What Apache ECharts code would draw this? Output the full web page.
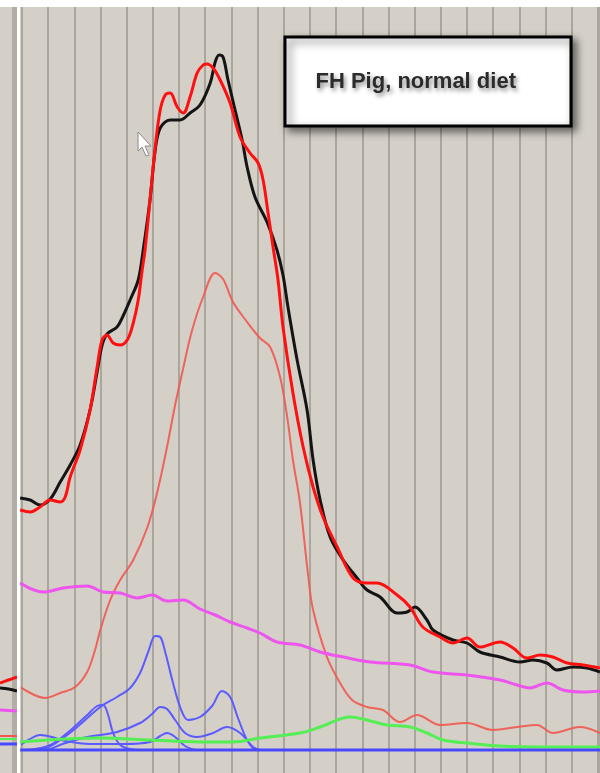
<!DOCTYPE html>
<html>
<head>
<meta charset="utf-8">
<script src="https://cdn.jsdelivr.net/npm/echarts@6/dist/echarts.min.js"></script>
<style>
  html, body { margin: 0; padding: 0; background: #d4d0c8; }
  #chart { width: 600px; height: 773px; }
</style>
</head>
<body>
<div id="chart"></div>
<script>
// x = fraction number (one grid line per fraction), y = detector signal (arbitrary units)
const titleText = 'FH Pig, normal diet';

const observed = [
  [-0.07,252],[0.31,250],[0.69,245],[1.08,251],[1.46,268],[1.84,285],[2.22,305],[2.60,340],[2.87,378],
  [3.06,405],[3.25,416],[3.63,423],[3.86,434],[4.13,450],[4.44,470],[4.63,500],[4.89,550],[5.09,600],
  [5.28,622],[5.66,630],[6.04,630],[6.42,637],[6.80,645],[7.19,667],[7.38,688],[7.53,695],[7.68,693],
  [7.87,670],[8.14,640],[8.41,610],[8.60,583],[8.90,553],[9.36,528],[9.74,500],[9.97,475],[10.16,443],
  [10.51,390],[10.89,340],[11.12,290],[11.39,250],[11.77,213],[12.27,190],[12.80,172],[13.18,160],
  [13.68,153],[14.33,137],[14.71,138],[15.01,143],[15.47,130],[15.70,120],[16.46,110],[17.00,107],
  [17.49,98],[18.26,93],[19.02,88],[19.52,90],[20.05,87],[20.43,80],[21.05,83],[21.58,82],[22.08,78]
];

const fitTotal = [
  [-0.07,240],[0.31,238],[0.69,243],[1.08,250],[1.46,248],[1.65,253],[1.84,273],[2.22,300],[2.60,340],
  [2.87,383],[3.06,410],[3.25,415],[3.48,407],[3.75,405],[4.02,410],[4.25,427],[4.44,450],[4.59,480],
  [4.70,500],[4.89,550],[5.09,603],[5.28,640],[5.47,655],[5.66,657],[5.93,643],[6.16,637],[6.42,653],
  [6.69,677],[6.92,685],[7.07,686],[7.30,682],[7.57,670],[7.95,647],[8.33,613],[8.71,597],[9.02,587],
  [9.21,570],[9.40,537],[9.59,503],[9.78,470],[9.97,423],[10.35,357],[10.74,303],[11.12,263],
  [11.50,233],[12.04,203],[12.65,172],[13.18,167],[13.56,167],[14.33,155],[14.82,143],[15.31,123],
  [15.97,113],[16.46,107],[17.00,112],[17.49,103],[18.26,108],[18.76,102],[19.29,92],[19.79,95],
  [20.28,93],[20.82,87],[21.43,85],[22.08,82]
];

const ldlPeak = [
  [-0.07,63],[0.89,52],[1.46,57],[2.03,63],[2.49,78],[2.79,100],[2.99,120],[3.37,150],[3.75,170],
  [4.25,190],[4.78,222],[5.16,257],[5.54,303],[5.85,345],[6.16,382],[6.50,420],[6.92,453],[7.38,477],
  [7.68,471],[8.06,448],[8.60,428],[9.09,412],[9.48,403],[9.86,373],[10.13,333],[10.35,290],
  [10.62,247],[10.93,175],[11.12,140],[11.65,93],[12.15,67],[12.61,50],[13.18,43],[13.79,40],
  [14.44,28],[15.09,35],[15.97,25],[17.00,27],[17.99,20],[18.91,23],[19.67,25],[20.28,17],
  [21.31,23],[22.08,17]
];

const broadPeak = [
  [-0.07,167],[0.81,158],[1.57,162],[2.49,164],[3.10,158],[3.75,157],[4.40,152],[4.97,155],[5.54,149],
  [6.16,150],[6.80,141],[7.38,135],[7.95,128],[8.60,122],[9.09,117],[9.74,108],[10.62,105],[11.39,98],
  [12.27,93],[13.30,88],[14.82,85],[15.70,78],[17.00,75],[18.26,70],[18.91,65],[19.40,62],[20.05,67],
  [20.66,60],[21.43,58],[22.08,59]
];

const hdlPeak = [
  [-0.07,8],[2.99,12],[4.89,10],[6.80,8],[8.06,8],[9.09,12],[10.62,17],[11.39,23],[12.53,33],
  [13.18,30],[13.94,25],[14.82,23],[15.47,17],[16.08,10],[17.00,7],[18.26,4],[20.17,3],[22.08,3]
];

const baseline = [[-0.07,0],[22.08,0]];

const vldlPeakA = [
  [-0.07,0],[0.89,2],[1.46,10],[2.11,23],[2.99,43],[3.63,53],[4.13,62],[4.51,77],[4.82,98],[5.09,114],
  [5.28,113],[5.47,98],[5.74,70],[6.04,43],[6.35,30],[6.80,33],[7.26,44],[7.64,59],[7.95,53],
  [8.25,32],[8.64,8],[8.98,0],[22.08,0]
];
const vldlPeakB = [
  [-0.07,0],[0.81,0],[1.65,7],[2.49,13],[3.63,18],[4.51,27],[4.97,36],[5.28,43],[5.54,41],[5.85,30],
  [6.23,17],[6.69,13],[7.30,17],[7.83,23],[8.33,17],[8.83,3],[9.09,0]
];
const vldlPeakC = [
  [0.31,0],[1.08,5],[1.73,17],[2.49,35],[2.87,44],[3.10,45],[3.29,35],[3.48,17],[3.75,5],[4.13,1],[4.51,0]
];
const vldlPeakD = [
  [-0.07,5],[0.24,10],[0.69,15],[1.15,13],[1.65,9],[2.60,6],[3.94,6],[4.89,8],[5.28,14],[5.54,17],
  [5.85,13],[6.23,4],[6.61,0]
];

// stubs of the neighbouring panel at the far left
const leftObserved = [[0,62],[0.5,61],[1,59]];
const leftFit = [[0,67],[0.5,70],[1,73]];
const leftBroad = [[0,40],[1,39]];
const leftLdl = [[0,14],[1,14]];
const leftHdl = [[0,11],[1,11]];
const leftBase = [[0,6],[1,6]];

const chart = echarts.init(document.getElementById('chart'), null, { renderer: 'canvas' });

function line(name, data, color, width, z, gi, opacity) {
  return {
    name, type: 'line', data, xAxisIndex: gi, yAxisIndex: gi,
    showSymbol: false, symbol: 'none', smooth: 0.35, clip: false, z,
    lineStyle: { color, width, opacity: opacity == null ? 1 : opacity },
    silent: true, animation: false
  };
}

const option = {
  backgroundColor: 'transparent',
  animation: false,
  title: {
    text: titleText,
    left: 284.5, top: 36.5,
    padding: [34, 55, 34, 31],
    backgroundColor: '#ffffff',
    borderColor: '#000000',
    borderWidth: 3,
    shadowBlur: 8,
    shadowColor: 'rgba(0,0,0,0.55)',
    shadowOffsetX: 4,
    shadowOffsetY: 4,
    textStyle: {
      fontFamily: 'Liberation Sans, Arial, sans-serif',
      fontSize: 22, fontWeight: 'bold', color: '#2b2b2b',
      textShadowColor: 'rgba(0,0,0,0.45)', textShadowBlur: 4,
      textShadowOffsetX: 2, textShadowOffsetY: 3
    },
    z: 20
  },
  grid: [
    { left: 22, right: 0, top: 7, bottom: 0, show: false },
    { left: 0, width: 17, top: 7, bottom: 0, show: false }
  ],
  xAxis: [
    {
      type: 'value', gridIndex: 0, min: 0, max: 22.08, interval: 1,
      axisLine: { show: false }, axisTick: { show: false }, axisLabel: { show: false },
      splitLine: { show: true, lineStyle: { color: '#aaa69e', width: 2 } }
    },
    {
      type: 'value', gridIndex: 1, min: 0, max: 1,
      axisLine: { show: false }, axisTick: { show: false }, axisLabel: { show: false },
      splitLine: { show: false }
    }
  ],
  yAxis: [
    { type: 'value', gridIndex: 0, min: -23, max: 743, show: false, splitLine: { show: false } },
    { type: 'value', gridIndex: 1, min: -23, max: 743, show: false, splitLine: { show: false } }
  ],
  graphic: [
    { type: 'rect', shape: { x: 12, y: 7, width: 5, height: 766 }, style: { fill: '#b2aea6' }, z: -1, silent: true },
    { type: 'rect', shape: { x: 17, y: 0, width: 3, height: 773 }, style: { fill: '#ffffff' }, z: 10, silent: true },
    { type: 'rect', shape: { x: 0, y: 0, width: 600, height: 7 }, style: { fill: '#ffffff' }, z: 10, silent: true },
    { type: 'polygon', shape: { points: [[138,132],[138,151],[142,147],[146,156],[149,155],[145,146],[151,146]] },
      style: { fill: '#ffffff', stroke: '#8a8a8a', lineWidth: 1 }, z: 15, silent: true }
  ],
  series: [
    line('VLDL A', vldlPeakA, '#5b5bff', 2, 3, 0),
    line('VLDL B', vldlPeakB, '#5b5bff', 2, 3, 0),
    line('VLDL C', vldlPeakC, '#5b5bff', 2, 3, 0),
    line('VLDL D', vldlPeakD, '#5b5bff', 2, 3, 0),
    line('HDL', hdlPeak, '#55ee55', 3, 4, 0),
    line('Baseline', baseline, '#4848ff', 3, 5, 0),
    line('LDL', ldlPeak, '#f2564e', 2, 6, 0, 0.9),
    line('Broad', broadPeak, '#ee55ee', 3, 6, 0),
    line('Observed', observed, '#141414', 3, 7, 0),
    line('Fit', fitTotal, '#ff1010', 3, 8, 0),
    line('L Broad', leftBroad, '#ee55ee', 3, 6, 1),
    line('L LDL', leftLdl, '#f2564e', 2, 6, 1),
    line('L HDL', leftHdl, '#55ee55', 2, 5, 1),
    line('L Base', leftBase, '#4848ff', 3, 5, 1),
    line('L Observed', leftObserved, '#141414', 3, 7, 1),
    line('L Fit', leftFit, '#ff1010', 3, 8, 1)
  ]
};
chart.setOption(option);
</script>
</body>
</html>
